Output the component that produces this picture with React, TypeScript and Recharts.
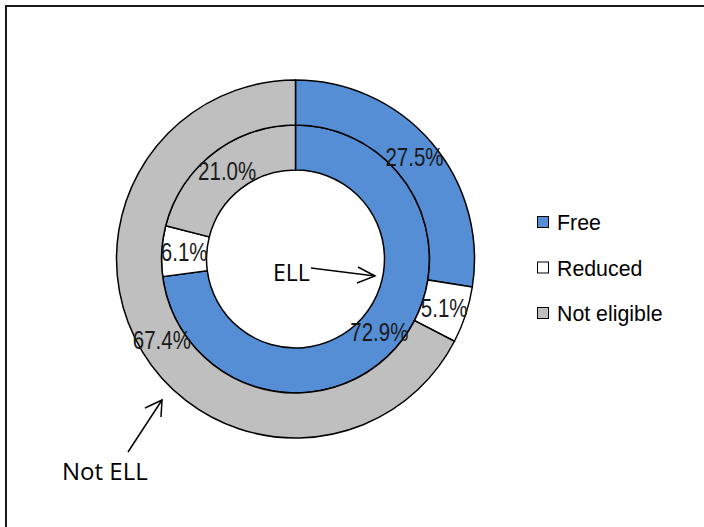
import { PieChart, Pie, Cell } from "recharts"

const categories = ["Free", "Reduced", "Not eligible"]
const ellShares = [72.9, 6.1, 21.0]
const notEllShares = [27.5, 5.1, 67.4]

const COLORS = ["#558ED5", "#FFFFFF", "#BFBFBF"]

const ellData = categories.map((name, i) => ({ name, value: ellShares[i] }))
const notEllData = categories.map((name, i) => ({ name, value: notEllShares[i] }))

const RAD = Math.PI / 180
const CX = 295.5
const CY = 259

// percent label sits in the middle of the ring, squeezed like Arial Narrow
const renderLabel = (p: any) => {
  const r = (p.innerRadius + p.outerRadius) / 2
  const x = p.cx + r * Math.cos(-p.midAngle * RAD)
  const y = p.cy + r * Math.sin(-p.midAngle * RAD)
  return (
    <text
      transform={`translate(${x},${y}) scale(0.82,1)`}
      textAnchor="middle"
      dy={9}
      fontSize={25}
      fill="#1a1a1a"
      fontFamily="'Liberation Sans', Arial, sans-serif"
    >
      {`${p.value.toFixed(1)}%`}
    </text>
  )
}

// legend drawn in svg so the text can be narrowed a touch
const LEGEND_X = 537
const LEGEND_Y = 222
const LEGEND_STEP = 45.5

const Legend = () => (
  <g fontFamily="'Liberation Sans', Arial, sans-serif" fontSize={22} fill="#000">
    {categories.map((name, i) => {
      const y = LEGEND_Y + i * LEGEND_STEP
      return (
        <g key={name}>
          <rect x={LEGEND_X + 0.5} y={y - 5.5} width={11} height={11} fill={COLORS[i]} stroke="#000" strokeWidth={1} />
          <text transform={`translate(${LEGEND_X + 20},${y + 8}) scale(0.97,1)`}>{name}</text>
        </g>
      )
    })}
  </g>
)

export default function App() {
  return (
    <div style={{ position: "absolute", left: 0, top: 0, width: 704, height: 527, overflow: "hidden", background: "#fff" }}>
      <div
        style={{
          position: "absolute",
          left: 5,
          top: 5,
          width: 720,
          height: 540,
          border: "2px solid #1a1a1a",
        }}
      />
      <div style={{ position: "absolute", left: 0, top: 0 }}>
        <PieChart width={704} height={527} margin={{ top: 0, right: 0, bottom: 0, left: 0 }}>
          <Pie
            data={ellData}
            dataKey="value"
            cx={CX}
            cy={CY}
            innerRadius={89}
            outerRadius={134}
            startAngle={90}
            endAngle={-270}
            stroke="#000"
            strokeWidth={1.5}
            label={renderLabel}
            labelLine={false}
            isAnimationActive={false}
          >
            {ellData.map((d, i) => (
              <Cell key={`ell-${d.name}`} fill={COLORS[i]} />
            ))}
          </Pie>
          <Pie
            data={notEllData}
            dataKey="value"
            cx={CX}
            cy={CY}
            innerRadius={134}
            outerRadius={179}
            startAngle={90}
            endAngle={-270}
            stroke="#000"
            strokeWidth={1.5}
            label={renderLabel}
            labelLine={false}
            isAnimationActive={false}
          >
            {notEllData.map((d, i) => (
              <Cell key={`notell-${d.name}`} fill={COLORS[i]} />
            ))}
          </Pie>
          <Legend />
          {/* ring callouts */}
          <g fontFamily="'Open Sans', sans-serif" fill="#000" stroke="none">
            <text x={273} y={280.5} fontSize={23}>ELL</text>
            <text x={62} y={480} fontSize={24}>Not ELL</text>
          </g>
          <g stroke="#000" strokeWidth={1.5} fill="none">
            <line x1={311} y1={268} x2={375} y2={276} />
            <polyline points="358,267 375,276 357,283" />
            <line x1={128} y1={452} x2={162} y2={400} />
            <polyline points="145,408 162,400 161,417" />
          </g>
        </PieChart>
      </div>
    </div>
  )
}
